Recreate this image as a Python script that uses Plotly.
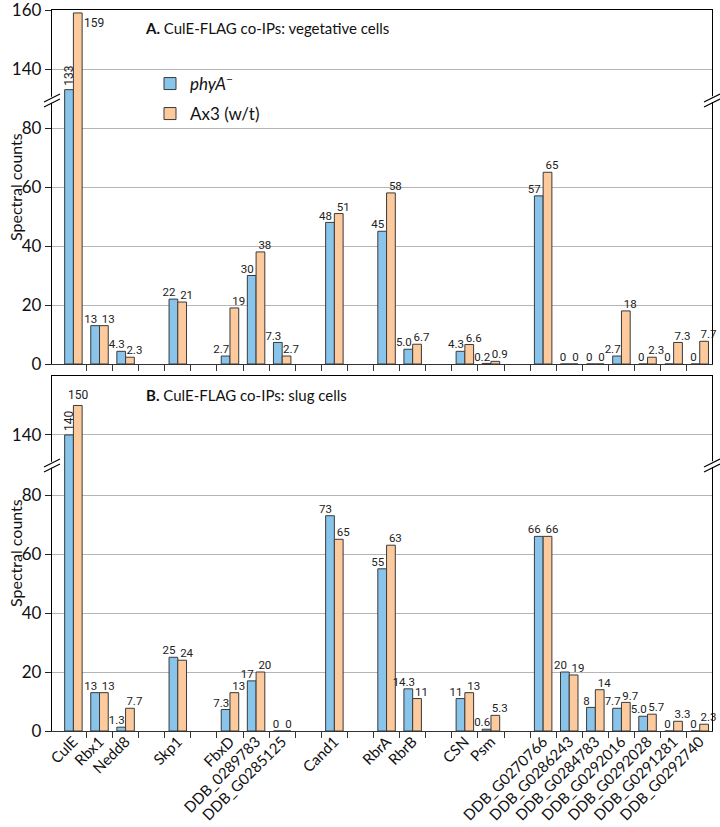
import plotly.graph_objects as go

# ---------------- data ----------------
groups = [
    ["CulE", "Rbx1", "Nedd8"],
    ["Skp1"],
    ["FbxD", "DDB_0289783", "DDB_G0285125"],
    ["Cand1"],
    ["RbrA", "RbrB"],
    ["CSN", "Psm"],
    ["DDB_G0270766", "DDB_G0286243", "DDB_G0284783", "DDB_G0292016",
     "DDB_G0292028", "DDB_G0291281", "DDB_G0292740"],
]

veg_phyA = [133, 13, 4.3, 22, 2.7, 30, 7.3, 48, 45, 5.0, 4.3, 0.2, 57, 0, 0, 2.7, 0, 0, 0]
veg_phyA_lbl = ["133", "13", "4.3", "22", "2.7", "30", "7.3", "48", "45", "5.0", "4.3", "0.2",
                "57", "0", "0", "2.7", "0", "0", "0"]
veg_ax3 = [159, 13, 2.3, 21, 19, 38, 2.7, 51, 58, 6.7, 6.6, 0.9, 65, 0, 0, 18, 2.3, 7.3, 7.7]
veg_ax3_lbl = ["159", "13", "2.3", "21", "19", "38", "2.7", "51", "58", "6.7", "6.6", "0.9",
               "65", "0", "0", "18", "2.3", "7.3", "7.7"]

slug_phyA = [140, 13, 1.3, 25, 7.3, 17, 0, 73, 55, 14.3, 11, 0.6, 66, 20, 8, 7.7, 5.0, 0, 0]
slug_phyA_lbl = ["140", "13", "1.3", "25", "7.3", "17", "0", "73", "55", "14.3", "11", "0.6",
                 "66", "20", "8", "7.7", "5.0", "0", "0"]
slug_ax3 = [150, 13, 7.7, 24, 13, 20, 0, 65, 63, 11, 13, 5.3, 66, 19, 14, 9.7, 5.7, 3.3, 2.3]
slug_ax3_lbl = ["150", "13", "7.7", "24", "13", "20", "0", "65", "63", "11", "13", "5.3",
                "66", "19", "14", "9.7", "5.7", "3.3", "2.3"]

series_names = ["<i>phyA</i><sup>\u2212</sup>", "Ax3 (w/t)"]
panel_titles = ["<b>A.</b> CulE-FLAG co-IPs: vegetative cells",
                "<b>B.</b> CulE-FLAG co-IPs: slug cells"]
y_title = "Spectral counts"

# ---------------- layout helpers ----------------
names, xpos = [], []
k = 0
for g in groups:
    for n in g:
        names.append(n)
        xpos.append(k)
        k += 1
    k += 1
nslots = k - 1
boundaries = [i + 0.5 for i in range(nslots)]

BARGAP = 0.33
half = (1 - BARGAP) / 4.0   # centre offset of each bar inside its group
LBL_SPREAD = 0.17           # labels nudged outward from their bar centre

BLUE = "#89C4EB"
ORANGE = "#FCCA9C"
EDGE = "#3a3a3a"
MAIN_FONT = "Lato, 'Open Sans', sans-serif"
NUM_FONT = "Roboto, Lato, sans-serif"

W, H = 720, 827
ML, MR, MT, MB = 52, 8, 10, 96
PH = H - MT - MB
PW = W - ML - MR


def py(pix):  # pixel row -> paper y
    return (H - MB - pix) / PH


def px(pix):
    return (pix - ML) / PW


dom = {
    "y": [py(100), 1.0],
    "y2": [py(364), py(100)],
    "y3": [py(465), py(376)],
    "y4": [0.0, py(465)],
}
rng = {
    "y": [129.5, 160],
    "y2": [0, 89.5],
    "y3": [129.8, 160],
    "y4": [0, 90.2],
}

fig = go.Figure()

panels = [
    ("x", "y", "x2", "y2", veg_phyA, veg_phyA_lbl, veg_ax3, veg_ax3_lbl),
    ("x3", "y3", "x4", "y4", slug_phyA, slug_phyA_lbl, slug_ax3, slug_ax3_lbl),
]

for pi, (xt, yt, xb, yb, v1, l1, v2, l2) in enumerate(panels):
    lim = rng[yb][1]
    for si, (vals, col) in enumerate([(v1, BLUE), (v2, ORANGE)]):
        fig.add_trace(go.Bar(
            x=xpos, y=vals, xaxis=xt, yaxis=yt, marker=dict(color=col, line=dict(color=EDGE, width=1)),
            showlegend=False, hoverinfo="skip", offsetgroup=str(si),
        ))
        fig.add_trace(go.Bar(
            x=xpos, y=vals, xaxis=xb, yaxis=yb, name=series_names[si],
            marker=dict(color=col, line=dict(color=EDGE, width=1)),
            showlegend=(pi == 0), legend=("legend" if si == 0 else "legend2"),
            hoverinfo="skip", offsetgroup=str(si),
        ))
    # value labels (drawn above the bars)
    for si, (vals, lbls, sgn) in enumerate([(v1, l1, -1), (v2, l2, 1)]):
        sel = [i for i, v in enumerate(vals) if v < lim]
        fig.add_trace(go.Scatter(
            x=[xpos[i] + sgn * (half + LBL_SPREAD) - sgn * (0.1 if lbls[i] == "0" else 0) for i in sel],
            y=[vals[i] for i in sel],
            text=[lbls[i] for i in sel], mode="text", textposition="top center",
            textfont=dict(family=NUM_FONT, size=11.5, color="#222"),
            xaxis=xb, yaxis=yb, showlegend=False, hoverinfo="skip", cliponaxis=False,
        ))

xr = [-0.82, nslots - 0.53]
common_x = dict(range=xr, showgrid=False, zeroline=False, fixedrange=True, automargin=False)
minor_ticks = dict(tickmode="array", tickvals=boundaries, ticks="outside", ticklen=6,
                   tickcolor="#333", tickwidth=1.2)

fig.update_layout(
    width=W, height=H, margin=dict(l=ML, r=MR, t=MT, b=MB, autoexpand=False),
    paper_bgcolor="white", plot_bgcolor="white",
    barmode="group", bargap=BARGAP, bargroupgap=0.0,
    font=dict(family=MAIN_FONT, size=16, color="#111"),
    xaxis=dict(**common_x, anchor="y", side="top", showline=True, linecolor="black", linewidth=1.3,
               showticklabels=False, ticks=""),
    xaxis2=dict(**common_x, anchor="y2", showline=True, linecolor="#333", linewidth=1.3,
                tickmode="array", tickvals=xpos, ticks="", ticklen=0, showticklabels=False,
                minor=minor_ticks),
    xaxis3=dict(**common_x, anchor="y3", side="top", showline=True, linecolor="black", linewidth=1.3,
                showticklabels=False, ticks=""),
    xaxis4=dict(**common_x, anchor="y4", showline=True, linecolor="#333", linewidth=1.3,
                tickmode="array", tickvals=xpos, ticktext=names, ticks="", ticklen=0, tickangle=-45,
                ticklabeloverflow="allow", ticklabelstandoff=-5,
                tickfont=dict(family=MAIN_FONT, size=15, color="#111"), minor=minor_ticks),
    legend=dict(x=px(150), y=py(66), xanchor="left", yanchor="top", bgcolor="rgba(0,0,0,0)",
                font=dict(family=MAIN_FONT, size=17, color="#111")),
    legend2=dict(x=px(150), y=py(96), xanchor="left", yanchor="top", bgcolor="rgba(0,0,0,0)",
                 font=dict(family=MAIN_FONT, size=17, color="#111")),
)

for yk, tv in [("y", [140, 160]), ("y2", [0, 20, 40, 60, 80]), ("y3", [140]), ("y4", [0, 20, 40, 60, 80])]:
    name = "yaxis" if yk == "y" else "yaxis" + yk[1:]
    fig.layout[name] = dict(
        domain=dom[yk], range=rng[yk], anchor="x" if yk == "y" else "x" + yk[1:],
        tickmode="array", tickvals=tv, ticks="outside", ticklen=6, tickcolor="#222",
        showline=True, linecolor="black", linewidth=1.3, mirror=True, ticklabeloverflow="allow",
        showgrid=True, gridcolor="#b5b5b5", gridwidth=1, zeroline=False, automargin=False,
        tickfont=dict(family=MAIN_FONT, size=17, color="#111"), fixedrange=True,
    )

ann = []
ann.append(dict(x=xpos[0], y=veg_phyA[0], xref="x", yref="y", text=veg_phyA_lbl[0], textangle=-90,
                yanchor="bottom", xanchor="center", xshift=-4.4, yshift=2, showarrow=False,
                font=dict(family=NUM_FONT, size=12, color="#222")))
ann.append(dict(x=xpos[0], y=veg_ax3[0], xref="x", yref="y", text=veg_ax3_lbl[0],
                yanchor="top", xanchor="left", xshift=9, yshift=-1, showarrow=False,
                font=dict(family=NUM_FONT, size=12, color="#222")))
ann.append(dict(x=xpos[0], y=slug_phyA[0], xref="x3", yref="y3", text=slug_phyA_lbl[0], textangle=-90,
                yanchor="bottom", xanchor="center", xshift=-4.4, yshift=2, showarrow=False,
                font=dict(family=NUM_FONT, size=12, color="#222")))
ann.append(dict(x=xpos[0], y=slug_ax3[0], xref="x3", yref="y3", text=slug_ax3_lbl[0],
                yanchor="bottom", xanchor="center", xshift=4.4, yshift=1, showarrow=False,
                font=dict(family=NUM_FONT, size=12, color="#222")))
ann.append(dict(x=px(143), y=py(28), xref="paper", yref="paper", text=panel_titles[0], xanchor="left",
                yanchor="middle", showarrow=False, font=dict(family=MAIN_FONT, size=15, color="#111")))
ann.append(dict(x=px(144), y=py(395), xref="paper", yref="paper", text=panel_titles[1], xanchor="left",
                yanchor="middle", showarrow=False, font=dict(family=MAIN_FONT, size=15, color="#111")))
for ymid in [187, 553]:
    ann.append(dict(x=px(15), y=py(ymid), xref="paper", yref="paper", text=y_title, textangle=-90,
                    xanchor="center", yanchor="middle", showarrow=False,
                    font=dict(family=MAIN_FONT, size=16, color="#111")))
fig.update_layout(annotations=ann)

shapes = []
for yb in [py(100), py(465)]:
    for xb in [0, 1]:
        base = dict(xref="paper", yref="paper", xsizemode="pixel", ysizemode="pixel",
                    xanchor=xb, yanchor=yb, layer="above")
        shapes.append(dict(**base, type="path", path="M-3,-4 L3,-1 L3,5 L-3,2 Z",
                           fillcolor="white", line=dict(width=0)))
        shapes.append(dict(**base, type="line", x0=-8, y0=-7, x1=8, y1=1, line=dict(color="black", width=1.2)))
        shapes.append(dict(**base, type="line", x0=-8, y0=-2, x1=8, y1=6, line=dict(color="black", width=1.2)))
fig.update_layout(shapes=shapes)

fig.write_html("out.html", config={"displayModeBar": False},
               post_script="document.body.style.margin='0';")
